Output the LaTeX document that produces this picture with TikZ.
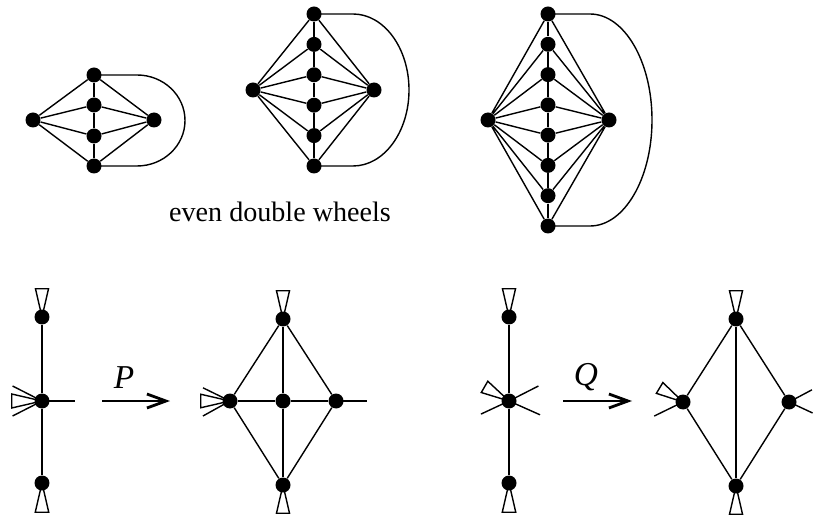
\documentclass[tikz,border=0pt]{standalone}
\usepackage{fontspec}
\setmainfont{Liberation Serif}
\usetikzlibrary{arrows.meta, positioning}

% open triangle (half-edge flag) and plain half-edge at a vertex
\newcommand{\flagat}[3]{\draw[edge] (#1.center) -- ([shift={(#2+13:#3)}]#1.center) -- ([shift={(#2-13:#3)}]#1.center) -- cycle;}
\newcommand{\stubat}[3]{\draw[edge] (#1.center) -- ++(#2:#3);}

\begin{document}
\begin{tikzpicture}[
    x=0.02cm, y=-0.02cm,
    vertex/.style = {circle, fill=black, inner sep=0pt, minimum size=0.3cm},
    edge/.style   = {line width=0.8pt},
    arrow/.style  = {line width=1.6pt, -{Straight Barb[length=3.8mm, width=2.8mm]}},
    lbl/.style    = {font=\fontsize{16}{19}\selectfont},
    oplbl/.style  = {font=\fontsize{19}{22}\selectfont\itshape}
]
    \useasboundingbox (0,0) rectangle (813,516);

    % --- Even double wheel 1 ---
    \node (w1w) [vertex] at (33,120) {};
    \node (w1e) [vertex] at (154,120) {};
    \node (w1n1) [vertex] at (94,75) {};
    \node (w1n2) [vertex] at (94,105) {};
    \node (w1n3) [vertex] at (94,136) {};
    \node (w1n4) [vertex] at (94,166) {};

    \draw [edge] (w1w) -- (w1n1) (w1w) -- (w1n2) (w1w) -- (w1n3) (w1w) -- (w1n4);
    \draw [edge] (w1e) -- (w1n1) (w1e) -- (w1n2) (w1e) -- (w1n3) (w1e) -- (w1n4);
    \draw [edge] (w1n1) -- (w1n2) -- (w1n3) -- (w1n4);
    \draw [edge] (w1n1.center) -- (137,75) arc[start angle=-90, end angle=90, x radius=48, y radius=45.5] -- (w1n4.center);

    % --- Even double wheel 2 ---
    \node (w2w) [vertex] at (253,90) {};
    \node (w2e) [vertex] at (374,90) {};
    \node (w2n1) [vertex] at (314,14) {};
    \node (w2n2) [vertex] at (314,44.4) {};
    \node (w2n3) [vertex] at (314,74.8) {};
    \node (w2n4) [vertex] at (314,105.2) {};
    \node (w2n5) [vertex] at (314,135.6) {};
    \node (w2n6) [vertex] at (314,166) {};

    \draw [edge] (w2w) -- (w2n1) (w2w) -- (w2n2) (w2w) -- (w2n3) (w2w) -- (w2n4) (w2w) -- (w2n5) (w2w) -- (w2n6);
    \draw [edge] (w2e) -- (w2n1) (w2e) -- (w2n2) (w2e) -- (w2n3) (w2e) -- (w2n4) (w2e) -- (w2n5) (w2e) -- (w2n6);
    \draw [edge] (w2n1) -- (w2n2) -- (w2n3) -- (w2n4) -- (w2n5) -- (w2n6);
    \draw [edge] (w2n1.center) -- (353,14) arc[start angle=-90, end angle=90, x radius=56, y radius=76] -- (w2n6.center);

    % --- Even double wheel 3 ---
    \node (w3w) [vertex] at (488,120) {};
    \node (w3e) [vertex] at (609,120) {};
    \node (w3n1) [vertex] at (548,14) {};
    \node (w3n2) [vertex] at (548,44.3) {};
    \node (w3n3) [vertex] at (548,74.6) {};
    \node (w3n4) [vertex] at (548,104.9) {};
    \node (w3n5) [vertex] at (548,135.1) {};
    \node (w3n6) [vertex] at (548,165.4) {};
    \node (w3n7) [vertex] at (548,195.7) {};
    \node (w3n8) [vertex] at (548,226) {};

    \draw [edge] (w3w) -- (w3n1) (w3w) -- (w3n2) (w3w) -- (w3n3) (w3w) -- (w3n4) (w3w) -- (w3n5) (w3w) -- (w3n6) (w3w) -- (w3n7) (w3w) -- (w3n8);
    \draw [edge] (w3e) -- (w3n1) (w3e) -- (w3n2) (w3e) -- (w3n3) (w3e) -- (w3n4) (w3e) -- (w3n5) (w3e) -- (w3n6) (w3e) -- (w3n7) (w3e) -- (w3n8);
    \draw [edge] (w3n1) -- (w3n2) -- (w3n3) -- (w3n4) -- (w3n5) -- (w3n6) -- (w3n7) -- (w3n8);
    \draw [edge] (w3n1.center) -- (590,14) arc[start angle=-90, end angle=90, x radius=62, y radius=106] -- (w3n8.center);

    \node (title) [lbl] at (280,212) {even double wheels};

    % --- Operation P ---
    \node (p1t) [vertex] at (42,317) {};
    \node (p1m) [vertex] at (42,401) {};
    \node (p1b) [vertex] at (42,483) {};
    \draw [edge] (p1t) -- (p1m) -- (p1b);
    \flagat{p1t}{-90}{29}
    \flagat{p1b}{90}{30}
    \flagat{p1m}{180}{31}
    \stubat{p1m}{207}{33}
    \stubat{p1m}{153}{33}
    \stubat{p1m}{0}{33}

    \coordinate (pa) at (102,401);
    \coordinate (pb) at (170,401);
    \draw [arrow] (pa) -- (pb);
    \node (plbl) [oplbl] at (124,378) {P};

    \node (p2t) [vertex] at (283,319) {};
    \node (p2l) [vertex] at (230,401) {};
    \node (p2m) [vertex] at (283,401) {};
    \node (p2r) [vertex] at (336,401) {};
    \node (p2b) [vertex] at (283,485) {};
    \draw [edge] (p2t) -- (p2l) -- (p2b) -- (p2r) -- (p2t);
    \draw [edge] (p2t) -- (p2m) -- (p2b);
    \draw [edge] (p2l) -- (p2m) -- (p2r);
    \flagat{p2t}{-90}{29}
    \flagat{p2b}{90}{29}
    \flagat{p2l}{180}{30}
    \stubat{p2l}{206}{30}
    \stubat{p2l}{151}{31}
    \stubat{p2r}{0}{31}

    % --- Operation Q ---
    \node (q1t) [vertex] at (509,317) {};
    \node (q1m) [vertex] at (509,401) {};
    \node (q1b) [vertex] at (509,483) {};
    \draw [edge] (q1t) -- (q1m) -- (q1b);
    \flagat{q1t}{-90}{29}
    \flagat{q1b}{90}{30}
    \flagat{q1m}{210}{29}
    \stubat{q1m}{333}{33}
    \stubat{q1m}{24}{34}
    \stubat{q1m}{155}{31}

    \coordinate (qa) at (563,401);
    \coordinate (qb) at (632,401);
    \draw [arrow] (qa) -- (qb);
    \node (qlbl) [oplbl] at (586,377) {Q};

    \node (q2t) [vertex] at (736,319) {};
    \node (q2l) [vertex] at (683,402) {};
    \node (q2r) [vertex] at (789,402) {};
    \node (q2b) [vertex] at (736,486) {};
    \draw [edge] (q2t) -- (q2l) -- (q2b) -- (q2r) -- (q2t);
    \draw [edge] (q2t) -- (q2b);
    \flagat{q2t}{-90}{29}
    \flagat{q2b}{90}{29}
    \flagat{q2l}{211}{28}
    \stubat{q2l}{154}{32}
    \stubat{q2r}{-28}{26}
    \stubat{q2r}{25}{26}

\end{tikzpicture}
\end{document}
